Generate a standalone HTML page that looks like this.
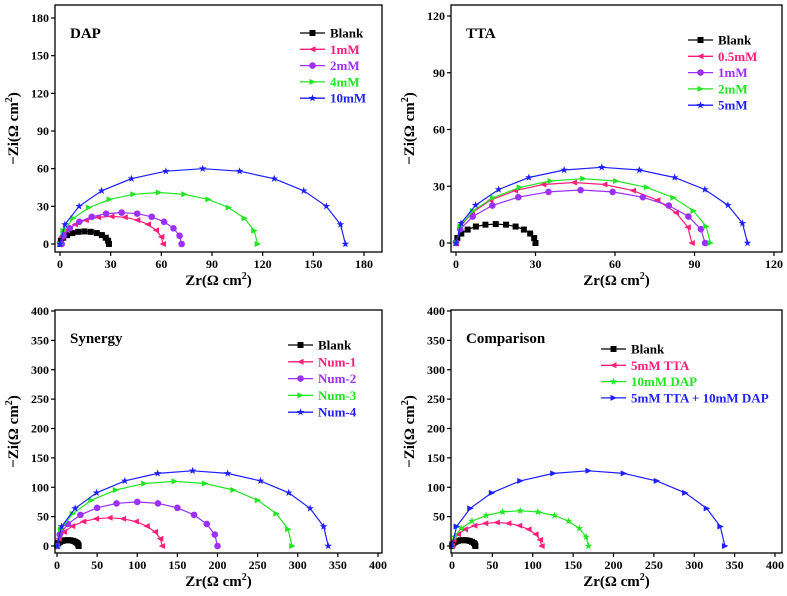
<!DOCTYPE html>
<html><head><meta charset="utf-8"><style>
html,body{margin:0;padding:0;background:#fff;}
svg{display:block;font-family:"Liberation Serif",serif;font-weight:bold;}
</style></head><body>
<svg id="chart" width="787" height="596" viewBox="0 0 787 596" xmlns="http://www.w3.org/2000/svg"></svg>
<script>
// ---- data arrays ----
const xBlank29=[0,0.5,1.9,4.2,7.3,10.8,14.5,18.2,21.8,24.8,27.1,28.5,29];
const xBlank30=[0,0.5,2,4.4,7.5,11.1,15,18.9,22.5,25.6,28,29.5,30];
const xBlank27=[0,0.5,1.8,3.9,6.8,10,13.5,17,20.3,23.1,25.2,26.5,27];
const yBlank=[0,2.6,5,7.1,8.7,9.7,10,9.7,8.7,7.1,5,2.6,0];
const xDap1=[0,1,4.1,8.9,15.3,22.6,30.5,38.4,45.8,52.1,56.9,60,61];
const yDap1=[0,5.7,11,15.6,19,21.3,22,21.3,19,15.6,11,5.7,0];
const xDap2=[1,2.2,5.8,11.4,18.8,27.3,36.5,45.7,54.3,61.6,67.2,70.8,72];
const yDap2=[0,6.5,12.5,17.7,21.7,24.2,25,24.2,21.7,17.7,12.5,6.5,0];
const xDap4=[0,2,7.8,17.1,29.3,43.4,58.5,73.6,87.8,99.9,109.2,115,117];
const yDap4=[0,10.6,20.5,29,35.5,39.6,41,39.6,35.5,29,20.5,10.6,0];
const xDap10=[0,2.9,11.3,24.7,42.3,62.7,84.5,106.3,126.8,144.3,157.7,166.1,169];
const yDap10=[0,15.5,30,42.4,52,58,60,58,52,42.4,30,15.5,0];
const xTta05=[0,1.5,6,13,22.3,33,44.5,56,66.8,76,83,87.5,89];
const yTta05=[0,8.3,16,22.6,27.7,30.9,32,30.9,27.7,22.6,16,8.3,0];
const xTta1=[0,1.6,6.3,13.7,23.5,34.9,47,59.1,70.5,80.3,87.7,92.4,94];
const yTta1=[0,7.3,14,19.8,24.2,27,28,27,24.2,19.8,14,7.3,0];
const xTta2=[0,1.6,6.4,14,24,35.6,48,60.4,72,82,89.6,94.4,96];
const yTta2=[0,8.8,17,24,29.4,32.8,34,32.8,29.4,24,17,8.8,0];
const xTta5=[0,1.9,7.4,16.1,27.5,40.8,55,69.2,82.5,93.9,102.6,108.1,110];
const yTta5=[0,10.4,20,28.3,34.6,38.6,40,38.6,34.6,28.3,20,10.4,0];
const xNum1=[0,2.2,8.8,19.1,32.8,48.6,65.5,82.4,98.3,111.9,122.2,128.8,131];
const yNum1=[0,12.4,24,33.9,41.6,46.4,48,46.4,41.6,33.9,24,12.4,0];
const xNum2=[0,3.4,13.4,29.2,50,74.2,100,125.8,150,170.8,186.6,196.6,200];
const yNum2=[0,19.4,37.5,53,65,72.5,75,72.5,65,53,37.5,19.4,0];
const xNum3=[0,5,19.6,42.8,73.3,108.7,146.5,184.3,219.8,250.2,273.4,288,293];
const yNum3=[0,28.5,55,77.8,95.3,106.3,110,106.3,95.3,77.8,55,28.5,0];
const xNum4=[0,5.7,22.6,49.3,84.5,125.4,169,212.6,253.5,288.7,315.4,332.3,338];
const yNum4=[0,33.2,64,90.5,110.8,123.6,128,123.6,110.8,90.5,64,33.2,0];
const xTtaC=[0,1.9,7.4,16.2,27.8,41.2,55.5,69.8,83.3,94.8,103.6,109.1,111];
const xTicks1=[0,30,60,90,120,150,180];
const xTicks2=[0,30,60,90,120];
const xTicks3=[0,50,100,150,200,250,300,350,400];
const dapLabels=["Blank","1mM","2mM","4mM","10mM"];
const ttaLabels=["Blank","0.5mM","1mM","2mM","5mM"];
const synLabels=["Blank","Num-1","Num-2","Num-3","Num-4"];
const cmpLabels=["Blank","5mM TTA","10mM DAP","5mM TTA + 10mM DAP"];

const C={k:"#000",p:"#ff1f7a",v:"#9b30ff",g:"#22e622",b:"#1f1fff"};
const NS="http://www.w3.org/2000/svg";
const svg=document.getElementById('chart');
function mk(tag,at,parent){const e=document.createElementNS(NS,tag);for(const k in at)e.setAttribute(k,at[k]);(parent||svg).appendChild(e);return e;}

function marker(g,type,cx,cy,col){
  const r=3;let e;
  if(type==='sq')e=mk('rect',{x:cx-r,y:cy-r,width:2*r,height:2*r,fill:col},g);
  else if(type==='ci')e=mk('circle',{cx:cx,cy:cy,r:r+0.3,fill:col},g);
  else if(type==='lt')e=mk('polygon',{points:`${cx-r-0.5},${cy} ${cx+r},${cy-r} ${cx+r},${cy+r}`,fill:col},g);
  else if(type==='rt')e=mk('polygon',{points:`${cx+r+0.5},${cy} ${cx-r},${cy-r} ${cx-r},${cy+r}`,fill:col},g);
  else { let p=[];for(let i=0;i<10;i++){const a=-Math.PI/2+i*Math.PI/5;const rr=i%2?1.6:4;p.push((cx+rr*Math.cos(a)).toFixed(1)+','+(cy+rr*Math.sin(a)).toFixed(1));}
    e=mk('polygon',{points:p.join(' '),fill:col},g);}
  
  
}

function panel(cfg){
  const g=mk('g',{});
  
  
  const sx=v=>cfg.x0+(v)*(cfg.x1-cfg.x0)/cfg.xmax;
  const sy=v=>cfg.y0+(v)*(cfg.y1-cfg.y0)/cfg.xmax;
  // series
  cfg.series.forEach((s,si)=>{
    const sg=mk('g',{},g);
    
    
    const pts=s.x.map((v,i)=>sx(v).toFixed(1)+','+sy(s.y[i]).toFixed(1)).join(' ');
    const pl=mk('polyline',{points:pts,fill:'none',stroke:s.c,'stroke-width':1.2},sg);
    
    
    s.x.forEach((v,i)=>marker(sg,s.m,sx(v),sy(s.y[i]),s.c));
  });
  // frame
  const fr=mk('rect',{x:cfg.fx0,y:cfg.fy0,width:cfg.fx1-cfg.fx0,height:cfg.fy1-cfg.fy0,fill:'none',stroke:'#000','stroke-width':1.3},g);
  
  
  cfg.ticks.forEach(t=>{
    const x=sx(t),y=sy(t);
    const a=mk('line',{x1:x,x2:x,y1:cfg.fy1,y2:cfg.fy1+4,stroke:'#000','stroke-width':1.2},g);
    
    const tx=mk('text',{x:x,y:cfg.fy1+16,'text-anchor':'middle','font-size':12},g);tx.textContent=t;
    
    const b=mk('line',{x1:cfg.fx0-4,x2:cfg.fx0,y1:y,y2:y,stroke:'#000','stroke-width':1.2},g);
    
    const ty=mk('text',{x:cfg.fx0-6,y:y+4,'text-anchor':'end','font-size':12},g);ty.textContent=t;
    
  });
  const xl=mk('text',{x:(cfg.fx0+cfg.fx1)/2,y:cfg.fy1+33,'text-anchor':'middle','font-size':15},g);
  xl.innerHTML='Zr(Ω cm<tspan dy="-6" font-size="10">2</tspan><tspan dy="6">)</tspan>';
  
  const cy=(cfg.fy0+cfg.fy1)/2, lx=cfg.fx0-37;
  const yl=mk('text',{x:lx,y:cy,'text-anchor':'middle','font-size':15,transform:`rotate(-90 ${lx} ${cy})`},g);
  yl.innerHTML='−Zi(Ω cm<tspan dy="-6" font-size="10">2</tspan><tspan dy="6">)</tspan>';
  
  const ti=mk('text',{x:cfg.fx0+15,y:cfg.fy0+33,'font-size':15},g);ti.textContent=cfg.title;
  
  cfg.labels.forEach((lb,i)=>{
    const s=cfg.series[i];const y=cfg.ly+i*cfg.ld;
    const lg=mk('g',{},g);
    
    mk('line',{x1:cfg.lx,x2:cfg.lx+25,y1:y,y2:y,stroke:s.c,'stroke-width':1.3},lg);
    marker(lg,s.m,cfg.lx+12.5,y,s.c);
    const t=mk('text',{x:cfg.lx+30,y:y+4.5,'font-size':13,fill:s.c},lg);t.textContent=lb;
  });
}

panel({name:'panel-dap',title:'DAP',fx0:55,fx1:382,fy0:5,fy1:252,x0:60,x1:364,y0:244,y1:18,xmax:180,ticks:xTicks1,
 lx:300,ly:33,ld:16.3,labels:dapLabels,
 series:[{x:xBlank29,y:yBlank,c:C.k,m:'sq'},{x:xDap1,y:yDap1,c:C.p,m:'lt'},{x:xDap2,y:yDap2,c:C.v,m:'ci'},{x:xDap4,y:yDap4,c:C.g,m:'rt'},{x:xDap10,y:yDap10,c:C.b,m:'st'}]});
panel({name:'panel-tta',title:'TTA',fx0:451,fx1:782,fy0:5,fy1:252,x0:456,x1:774,y0:243,y1:16,xmax:120,ticks:xTicks2,
 lx:688,ly:40,ld:16.3,labels:ttaLabels,
 series:[{x:xBlank30,y:yBlank,c:C.k,m:'sq'},{x:xTta05,y:yTta05,c:C.p,m:'lt'},{x:xTta1,y:yTta1,c:C.v,m:'ci'},{x:xTta2,y:yTta2,c:C.g,m:'rt'},{x:xTta5,y:yTta5,c:C.b,m:'st'}]});
panel({name:'panel-synergy',title:'Synergy',fx0:55,fx1:382,fy0:310,fy1:553,x0:57,x1:378,y0:546,y1:311,xmax:400,ticks:xTicks3,
 lx:288,ly:345,ld:16.8,labels:synLabels,
 series:[{x:xBlank27,y:yBlank,c:C.k,m:'sq'},{x:xNum1,y:yNum1,c:C.p,m:'lt'},{x:xNum2,y:yNum2,c:C.v,m:'ci'},{x:xNum3,y:yNum3,c:C.g,m:'rt'},{x:xNum4,y:yNum4,c:C.b,m:'st'}]});
panel({name:'panel-comparison',title:'Comparison',fx0:451,fx1:782,fy0:310,fy1:553,x0:452,x1:775,y0:546,y1:311,xmax:400,ticks:xTicks3,
 lx:601,ly:349,ld:16.3,labels:cmpLabels,
 series:[{x:xBlank29,y:yBlank,c:C.k,m:'sq'},{x:xTtaC,y:yTta5,c:C.p,m:'lt'},{x:xDap10,y:yDap10,c:C.g,m:'st'},{x:xNum4,y:yNum4,c:C.b,m:'rt'}]});
</script>
</body></html>
